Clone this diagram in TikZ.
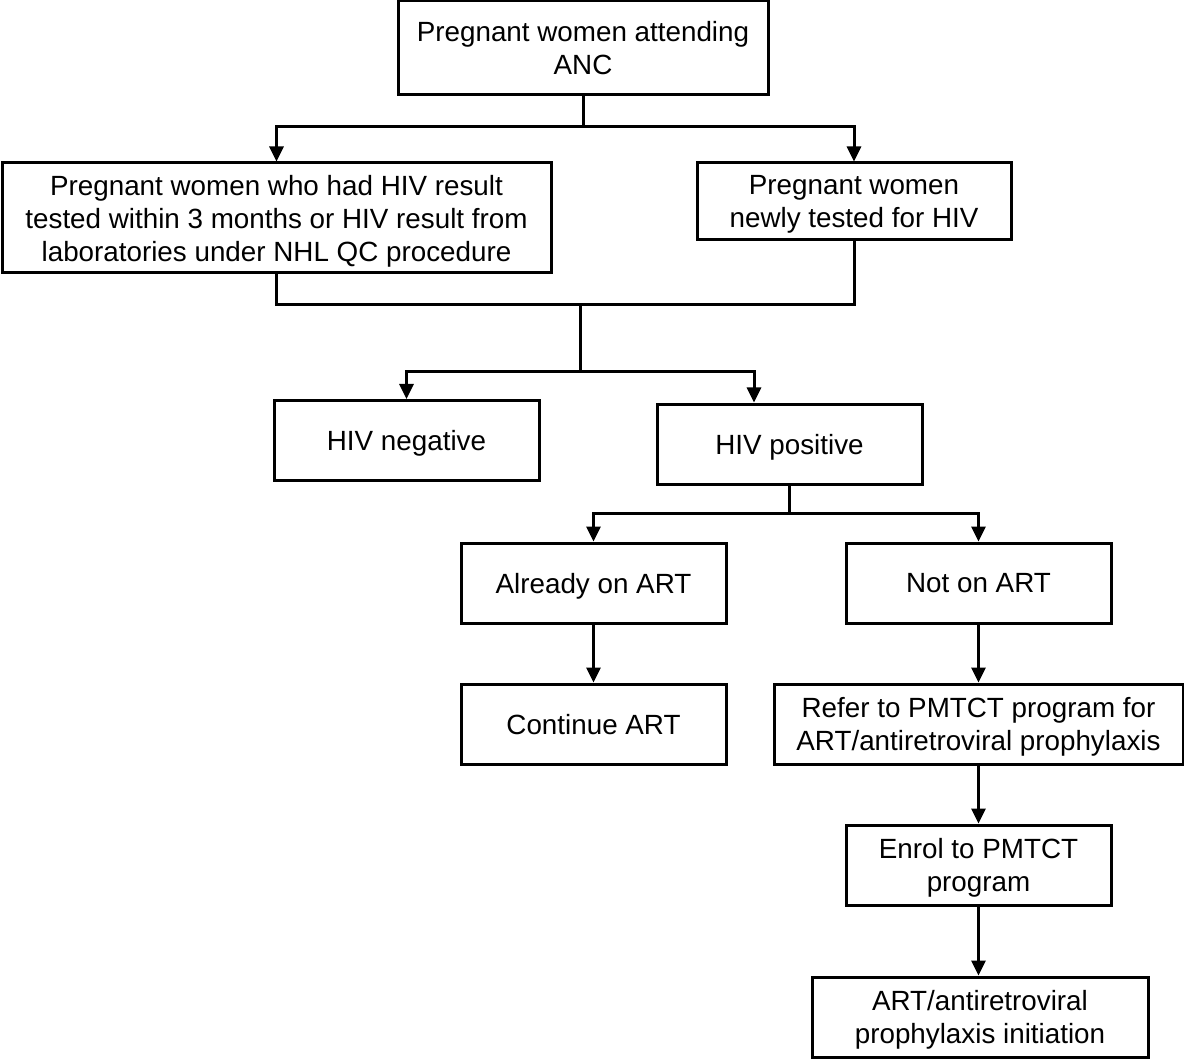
\documentclass[tikz,border=0pt]{standalone}
\usepackage{fontspec}
\setmainfont{Liberation Sans}
\usetikzlibrary{arrows.meta}

\begin{document}
\begin{tikzpicture}[
	  x=0.5pt, y=-0.5pt,
	  line width=1.5pt,
	  blk/.style={draw, align=center, inner sep=0pt, text depth=0pt, font=\fontsize{13.9}{16.5}\selectfont},
	  arr/.style={-{Triangle[width=7pt,length=7.5pt]}},
	]
	\useasboundingbox (0,0) rectangle (1184,1059);

	\node [blk, minimum width=185pt, minimum height=47pt] (anc) at (583,48) {Pregnant women attending\\ANC};
	\node [blk, minimum width=274.5pt, minimum height=55pt] (prev) at (276.5,218) {Pregnant women who had HIV result\\tested within 3 months or HIV result from\\laboratories under NHL QC procedure};
	\node [blk, minimum width=157pt, minimum height=38.5pt] (new) at (854,201.5) {Pregnant women\\newly tested for HIV};
	\node [blk, minimum width=132.5pt, minimum height=40pt] (neg) at (406.5,440.5) {HIV negative};
	\node [blk, minimum width=132.5pt, minimum height=40pt] (pos) at (789.5,444) {HIV positive};
	\node [blk, minimum width=132.5pt, minimum height=40pt] (onart) at (593.5,583) {Already on ART};
	\node [blk, minimum width=132.5pt, minimum height=40pt] (notart) at (978.5,583) {Not on ART};
	\node [blk, minimum width=132.5pt, minimum height=40pt] (cont) at (593.5,724) {Continue ART};
	\node [blk, minimum width=204.5pt, minimum height=40pt] (refer) at (978.5,724) {Refer to PMTCT program for\\ART/antiretroviral prophylaxis};
	\node [blk, minimum width=132.5pt, minimum height=40pt] (enrol) at (978.5,865) {Enrol to PMTCT\\program};
	\node [blk, minimum width=168pt, minimum height=40pt] (init) at (980,1017) {ART/antiretroviral\\prophylaxis initiation};

	% split from ANC
	\coordinate (j1) at (583,127);
	\draw (anc) -- (j1);
	\draw [arr] (j1) -| (prev);
	\draw [arr] (j1) -| (new);

	% merge and split by result
	\coordinate (j2) at (580,305);
	\coordinate (j3) at (580,372);
	\draw (prev.south) |- (j2) -| (new.south);
	\draw (j2) -- (j3);
	\draw [arr] (j3) -| (neg);
	\draw [arr] (j3) -| ([xshift=-17.75pt]pos.north);

	% positive
	\coordinate (j4) at (789.5,513);
	\draw (pos) -- (j4);
	\draw [arr] (j4) -| (onart);
	\draw [arr] (j4) -| (notart);

	\draw [arr] (onart) -- (cont);
	\draw [arr] (notart) -- (refer);
	\draw [arr] (refer) -- (enrol);
	\draw [arr] (enrol.south) -- (enrol.south |- init.north);
	\end{tikzpicture}
\end{document}
